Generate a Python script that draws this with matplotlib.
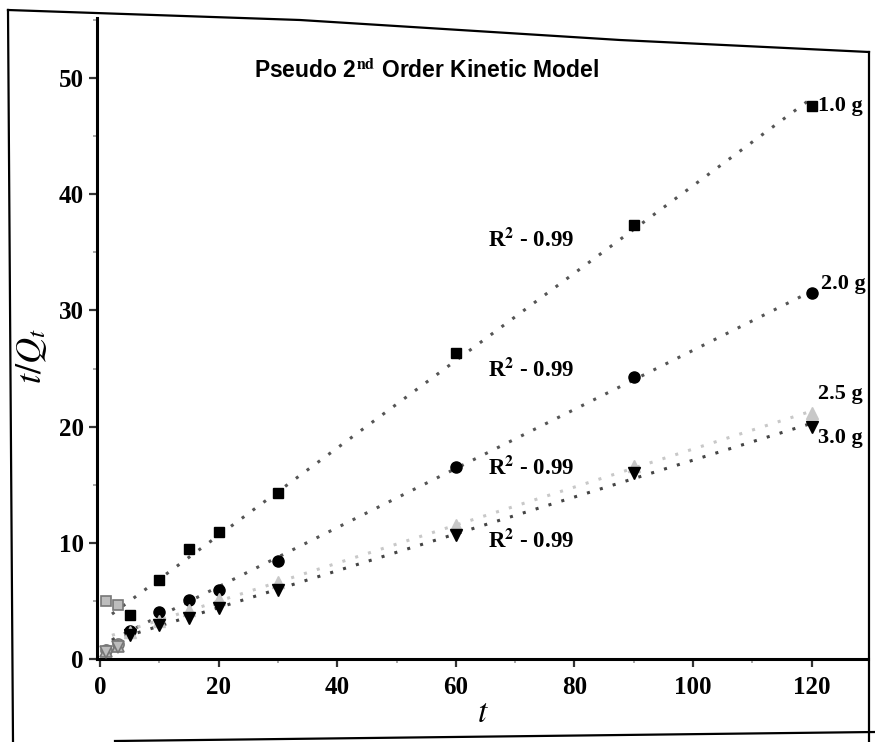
import numpy as np
import matplotlib.pyplot as plt
from matplotlib.lines import Line2D
from matplotlib.ticker import MultipleLocator

plt.rcParams["mathtext.fontset"] = "stix"

# contact time (min)
t = np.array([1, 3, 5, 10, 15, 20, 30, 60, 90, 120])

# t/Qt for each adsorbent dose
q_10 = np.array([5.0, 4.6, 3.8, 6.8, 9.5, 10.9, 14.3, 26.3, 37.4, 47.6])
q_20 = np.array([0.8, 1.3, 2.4, 4.0, 5.1, 5.9, 8.4, 16.5, 24.3, 31.5])
q_25 = np.array([0.7, 1.1, 2.3, 3.3, 4.2, 5.2, 6.6, 11.5, 16.6, 21.2])
q_30 = np.array([0.6, 1.0, 2.1, 2.9, 3.5, 4.4, 5.9, 10.7, 16.0, 20.0])

doses = ["1.0 g", "2.0 g", "2.5 g", "3.0 g"]
r2_text = ["R$^{\\mathbf{2}}$ - 0.99"] * 4

serif = "Liberation Serif"
fig = plt.figure(figsize=(8.75, 7.42), dpi=100)
ax = fig.add_axes([0.111, 0.112, 0.881, 0.864])

series = [
    (q_10, "s", "black", "#555555", 7),
    (q_20, "o", "black", "#555555", 8),
    (q_25, "^", "#c8c8c8", "#c8c8c8", 8),
    (q_30, "v", "black", "#444444", 8),
]

tt = np.linspace(2, 120, 200)
for y, mk, col, lcol, ms in series:
    fit = np.polyfit(t[2:], y[2:], 1)
    ax.plot(tt, np.polyval(fit, tt), ls=(0, (1, 3.4)), lw=2.2, color=lcol, zorder=2)
    ax.plot(t[2:], y[2:], mk, color=col, ms=ms, zorder=3, ls="none")
    ax.plot(t[:2], y[:2], mk, mfc="#bdbdbd", mec="#777777", mew=1.2, ms=ms, zorder=3, ls="none")

# dose labels next to the last point
lab_y = [47.6, 32.3, 22.8, 19.0]
lab_x = [121, 121.5, 121, 121]
for name, x, y in zip(doses, lab_x, lab_y):
    ax.text(x, y, name, fontsize=16, fontweight="bold", family=serif, va="center")

# R^2 labels
r2_pos = [(65.5, 36.0), (65.5, 24.8), (65.5, 16.4), (65.5, 10.1)]
for s, (x, y) in zip(r2_text, r2_pos):
    ax.text(x, y, s, fontsize=16.5, fontweight="bold", family=serif, va="center")

ax.text(26.0, 50.6, "Pseudo 2$^{\\mathbf{nd}}$ Order Kinetic Model", fontsize=16.5,
        fontweight="bold", family="Liberation Sans", va="center")

ax.set_xlim(-0.5, 129.5)
ax.set_ylim(0, 55.2)
ax.xaxis.set_major_locator(MultipleLocator(20))
ax.xaxis.set_minor_locator(MultipleLocator(10))
ax.yaxis.set_major_locator(MultipleLocator(10))
ax.yaxis.set_minor_locator(MultipleLocator(5))
ax.tick_params(which="major", direction="out", length=6, width=1.6, color="#333333")
ax.tick_params(which="minor", direction="out", length=3, width=1.2, color="#999999")
ax.tick_params(axis="x", pad=6)
for lbl in ax.get_xticklabels() + ax.get_yticklabels():
    lbl.set_fontfamily(serif)
    lbl.set_fontweight("bold")
    lbl.set_fontsize(18)

for side in ["top", "right"]:
    ax.spines[side].set_visible(False)
for side in ["left", "bottom"]:
    ax.spines[side].set_linewidth(2.2)

ax.set_xlabel("$t$", fontsize=24, labelpad=-2)
fig.text(0.036, 0.52, "$t/Q_t$", rotation=90, fontsize=26, ha="center", va="center")

# page border around the figure
W, H = 875, 742
def px(xs, ys):
    return [x / W for x in xs], [1 - y / H for y in ys]

for xs, ys in [([8, 13], [10, 742]),
               ([8, 300, 620, 869], [10, 20, 40, 52]),
               ([869, 869], [52, 742]),
               ([115, 875], [741, 732])]:
    fx, fy = px(xs, ys)
    fig.add_artist(Line2D(fx, fy, color="black", lw=1.6))

fig.savefig("out.png", dpi=100)
